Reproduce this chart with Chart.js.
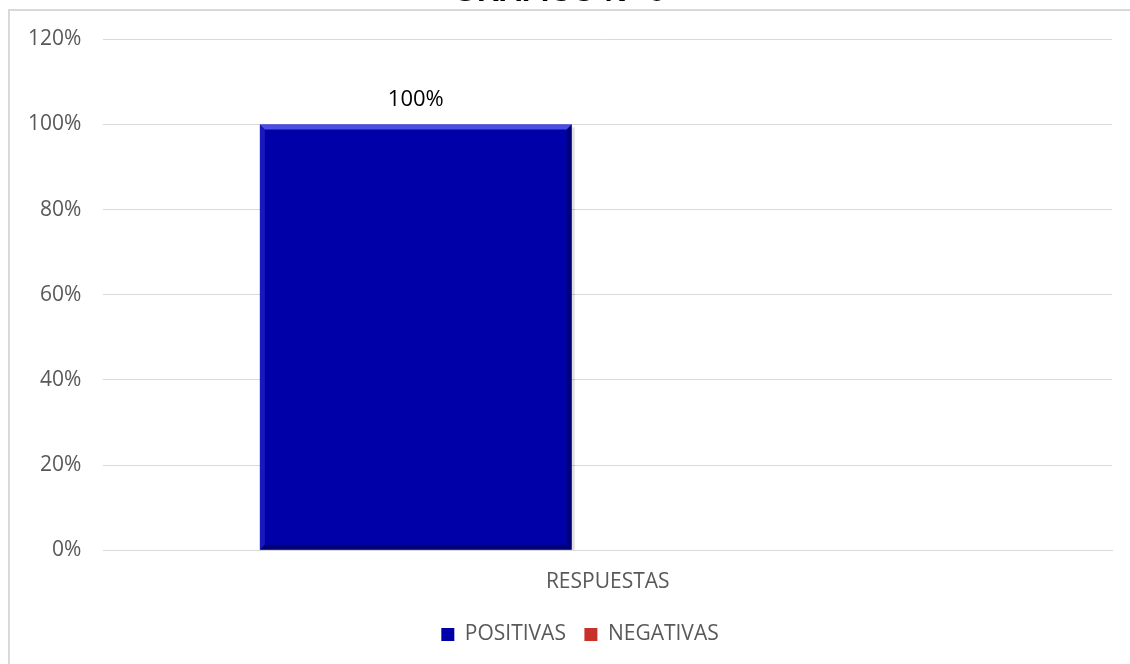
<!DOCTYPE html>
<html>
<head>
<meta charset="utf-8">
<script src="https://cdn.jsdelivr.net/npm/chart.js@4/dist/chart.umd.min.js"></script>
<style>
  html, body { margin: 0; padding: 0; background: #fff; overflow: hidden; }
  #wrap { position: relative; width: 1130px; height: 664px; overflow: hidden; }
  #frame { position: absolute; left: 8px; top: 9px; width: 1200px; height: 700px;
           border-left: 2px solid #d9d9d9; border-top: 2px solid #d9d9d9; box-sizing: border-box; }
  #box { position: absolute; left: 0; top: -26px; width: 1152px; height: 692px; }
</style>
</head>
<body>
<div id="wrap">
  <div id="frame"></div>
  <div id="box"><canvas id="myChart"></canvas></div>
</div>
<script>
// Chart data
const chartTitle = 'GRÁFICO N° 6';
const categories = ['RESPUESTAS'];
const seriesNames = ['POSITIVAS', 'NEGATIVAS'];
const positivas = [1.00];
const negativas = [0];
const yTicks = [0, 0.2, 0.4, 0.6, 0.8, 1.0, 1.2];

const font = '"Open Sans", "Noto Sans", sans-serif';
const pct = v => Math.round(v * 100) + '%';

// value labels above bars (no datalabels plugin offline)
const valueLabels = {
    id: 'valueLabels',
    afterDatasetsDraw(chart) {
        const ctx = chart.ctx;
        ctx.save();
        ctx.font = '22px ' + font;
        ctx.fillStyle = '#000';
        ctx.textAlign = 'center';
        ctx.textBaseline = 'alphabetic';
        chart.data.datasets.forEach((ds, i) => {
            chart.getDatasetMeta(i).data.forEach((bar, j) => {
                const v = ds.data[j];
                if (!v) return;
                ctx.fillText(pct(v), bar.x, bar.y - 18);
            });
        });
        ctx.restore();
    }
};

// nudge the legend a bit to the right, like the original
const legendShift = {
    id: 'legendShift',
    afterLayout(chart) {
        if (!chart.legend) return;
        chart.legend.left += 21;
        chart.legend.right += 21;
    }
};

// simple bevel look like the office chart
const bevel = {
    id: 'bevel',
    afterDatasetsDraw(chart) {
        const ctx = chart.ctx;
        chart.data.datasets.forEach((ds, i) => {
            chart.getDatasetMeta(i).data.forEach(bar => {
                const h = bar.base - bar.y;
                if (h <= 0) return;
                const l = bar.x - bar.width / 2, r = bar.x + bar.width / 2;
                const t = bar.y, b = bar.base, d = 5;
                ctx.save();
                // top highlight
                ctx.fillStyle = 'rgba(90,90,240,0.85)';
                ctx.beginPath();
                ctx.moveTo(l, t); ctx.lineTo(r, t); ctx.lineTo(r - d, t + d); ctx.lineTo(l + d, t + d);
                ctx.closePath(); ctx.fill();
                // left edge
                ctx.fillStyle = 'rgba(40,40,200,0.6)';
                ctx.beginPath();
                ctx.moveTo(l, t); ctx.lineTo(l + d, t + d); ctx.lineTo(l + d, b - d); ctx.lineTo(l, b);
                ctx.closePath(); ctx.fill();
                // right edge
                ctx.fillStyle = 'rgba(0,0,90,0.6)';
                ctx.beginPath();
                ctx.moveTo(r, t); ctx.lineTo(r - d, t + d); ctx.lineTo(r - d, b - d); ctx.lineTo(r, b);
                ctx.closePath(); ctx.fill();
                // bottom edge
                ctx.fillStyle = 'rgba(0,0,70,0.5)';
                ctx.beginPath();
                ctx.moveTo(l, b); ctx.lineTo(l + d, b - d); ctx.lineTo(r - d, b - d); ctx.lineTo(r, b);
                ctx.closePath(); ctx.fill();
                // soft shadow on the right
                ctx.fillStyle = 'rgba(0,0,0,0.12)';
                ctx.fillRect(r, t + 3, 3, h - 3);
                ctx.restore();
            });
        });
    }
};

function drawChart() {
    const ctx = document.getElementById('myChart').getContext('2d');

    new Chart(ctx, {
        type: 'bar',
        data: {
            labels: categories,
            datasets: [
                { label: seriesNames[0], data: positivas, backgroundColor: '#0000a8' },
                { label: seriesNames[1], data: negativas, backgroundColor: '#c8302a' }
            ]
        },
        options: {
            responsive: true,
            maintainAspectRatio: false,
            animation: false,
            layout: { padding: { left: 6, right: 40, top: 0, bottom: 11 } },
            datasets: {
                bar: { categoryPercentage: 0.761, barPercentage: 0.8125 }
            },
            scales: {
                x: {
                    grid: { display: false },
                    border: { color: '#d9d9d9', width: 1 },
                    ticks: { color: '#595959', font: { family: font, size: 21 }, padding: 11 }
                },
                y: {
                    min: 0,
                    max: 1.2,
                    afterBuildTicks: axis => { axis.ticks = yTicks.map(v => ({ value: v })); },
                    grid: { color: '#d9d9d9', lineWidth: 1, drawTicks: false },
                    border: { display: false },
                    ticks: {
                        color: '#595959',
                        font: { family: font, size: 21 },
                        padding: 22,
                        callback: v => pct(v)
                    }
                }
            },
            plugins: {
                title: {
                    display: true,
                    text: chartTitle,
                    color: '#000',
                    font: { family: '"Liberation Sans", Arial, sans-serif', size: 31, weight: 'bold' },
                    padding: { top: 0, bottom: 28 }
                },
                legend: {
                    position: 'bottom',
                    labels: {
                        color: '#595959',
                        font: { family: font, size: 21 },
                        boxWidth: 13,
                        boxHeight: 13,
                        padding: 18.5
                    }
                },
                tooltip: { enabled: false }
            }
        },
        plugins: [bevel, valueLabels, legendShift]
    });
}

drawChart();
</script>
</body>
</html>
